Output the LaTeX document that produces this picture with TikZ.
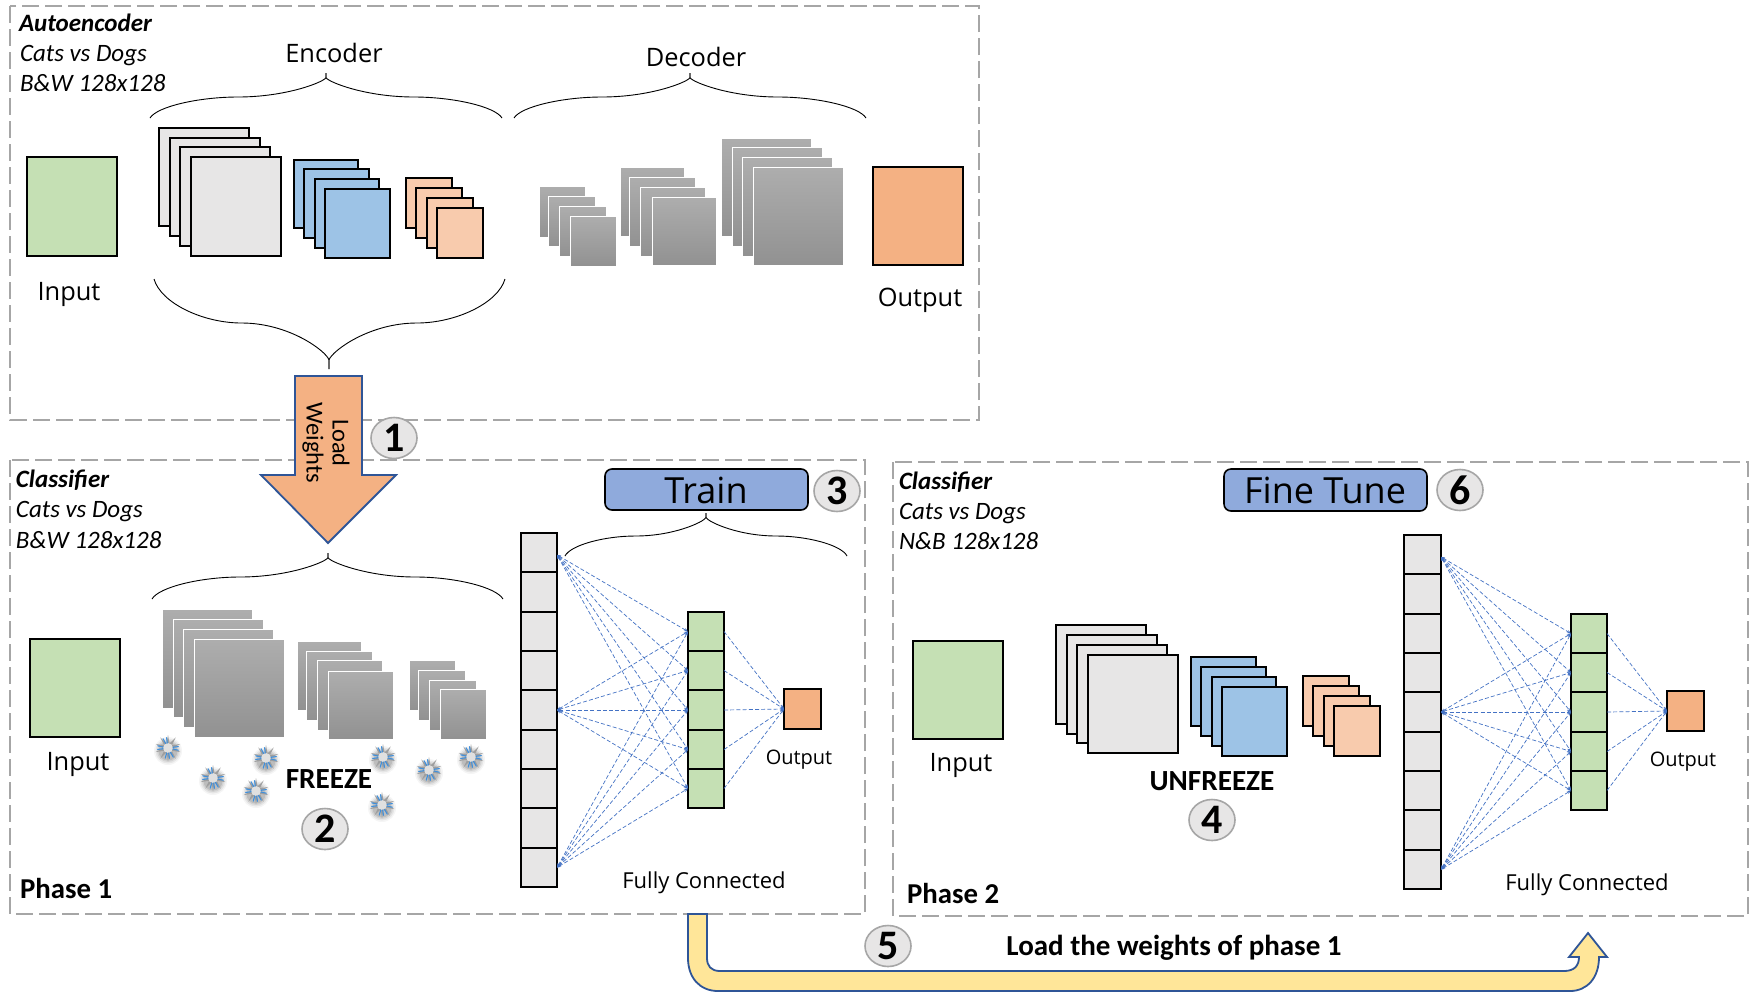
\documentclass[tikz,border=0pt]{standalone}
\usepackage{fontspec}
\setmainfont{Carlito}
\newfontfamily\segoe{Open Sans}
\usetikzlibrary{arrows.meta,shapes.geometric}
\definecolor{cgreen}{HTML}{C5E0B4}
\definecolor{cgrey}{HTML}{E7E6E6}
\definecolor{cblue}{HTML}{9DC3E6}
\definecolor{cpeach}{HTML}{F8CBAD}
\definecolor{corange}{HTML}{F4B183}
\definecolor{cnavy}{HTML}{2F5597}
\definecolor{ctrain}{HTML}{8FAADC}
\definecolor{cyel}{HTML}{FFE699}
\definecolor{cdash}{HTML}{A6A6A6}
\definecolor{cfc}{HTML}{4472C4}
\definecolor{cspike}{HTML}{3F8FDC}
\tikzset{
  every node/.style={inner sep=0pt,outer sep=0pt},
  framebox/.style={draw=cdash,line width=1.1pt,dash pattern=on 8.5pt off 3pt},
  blk/.style={draw=black,line width=1.1pt},
  bwide/.style={blk,fill=cgrey},
  bblue/.style={blk,fill=cblue},
  bpeach/.style={blk,fill=cpeach},
  bgreen/.style={blk,fill=cgreen},
  borange/.style={blk,fill=corange},
  frozen/.style={draw=white,line width=.35pt,top color=black!32,bottom color=black!43},
  fc/.style={draw=cfc,line width=.35pt,dash pattern=on 2pt off 1.1pt},
  fcboth/.style={fc,{Stealth[length=2pt,width=1.6pt]}-{Stealth[length=2pt,width=1.6pt]}},
  fcone/.style={fc,-{Stealth[length=2pt,width=1.6pt]}},
  hdr/.style={anchor=west,font=\fontsize{12.5}{14}\selectfont\bfseries\itshape},
  sub/.style={anchor=west,font=\fontsize{12.5}{14}\selectfont\itshape},
  lab/.style={font=\segoe\fontsize{12.7}{14}\selectfont},
  labo/.style={font=\segoe\fontsize{10}{12}\selectfont},
  labf/.style={font=\segoe\fontsize{11}{12}\selectfont},
  phase/.style={anchor=west,font=\fontsize{14.4}{16}\selectfont\bfseries},
  bold/.style={font=\fontsize{14.6}{16}\selectfont\bfseries},
  num/.style={ellipse,draw=cdash,line width=.8pt,fill=cgrey,minimum width=23pt,minimum height=20.5pt,font=\fontsize{21}{23}\selectfont\bfseries},
  pill/.style={draw=black,line width=.8pt,fill=ctrain,rounded corners=3.5pt,font=\segoe\fontsize{18}{20}\selectfont},
  brc/.style={draw=black,line width=.45pt},
  block/.style={draw=cnavy,line width=.9pt},
}
% rectangle node between two corners, in reference pixels
\newcommand\bxnode[6]{%
  \pgfmathsetmacro\bxcx{(#3+#5)/2}\pgfmathsetmacro\bxcy{(#4+#6)/2}%
  \pgfmathsetmacro\bxw{(#5-#3)*.5}\pgfmathsetmacro\bxh{(#6-#4)*.5}%
  \node[#2,minimum width=\bxw pt,minimum height=\bxh pt] (#1) at (\bxcx,\bxcy) {};}
\newcommand\stacknodes[3]{%
  \foreach \a/\b/\c/\d [count=\i] in {#3} {\bxnode{#1\i}{#2}{\a}{\b}{\c}{\d}}}
\newcommand\frozenstack[2]{%
  \foreach \a/\b/\c/\d [count=\i] in {#2} {\bxnode{#1\i}{frozen}{(\a-1)}{(\b-1)}{\c}{\d}}}
% half of a curly brace: #1 outer x, #2 tip x, #3 tip y, #4 middle y, #5 end y
\newcommand\halfbrace[5]{%
  \pgfmathsetmacro\hw{#2-#1}\pgfmathsetmacro\hq{(#1+#2)/2}%
  \pgfmathsetmacro\hca{#1+.04*\hw}\pgfmathsetmacro\hcb{#5+.55*(#4-#5)}%
  \pgfmathsetmacro\hcc{\hq-.22*\hw}\pgfmathsetmacro\hcd{\hq+.27*\hw}%
  \pgfmathsetmacro\hce{#2-.02*\hw}\pgfmathsetmacro\hcf{#4+.6*(#3-#4)}\pgfmathsetmacro\hcg{#4+.8*(#3-#4)}%
  \draw[brc] (#1,#5) .. controls (\hca,\hcb) and (\hcc,#4) .. (\hq,#4)
     .. controls (\hcd,#4) and (\hce,\hcf) .. (#2,\hcg) -- (#2,#3);}
\newcommand\cbrace[6]{\halfbrace{#1}{#2}{#4}{#5}{#6}\halfbrace{#3}{#2}{#4}{#5}{#6}}
% frost mark
\newcommand\frost[3]{%
  \begin{scope}[shift={(#2,#3)}]
    \foreach \r/\o in {14/.04,12.5/.06,11/.08,9.5/.10}{\fill[black,opacity=\o] (0,3) circle[radius=\r];}
    \node[star,star points=10,star point ratio=2.8,fill=black!38,minimum size=13pt] (#1) at (0,0) {};
    \fill[black!12] (0,0) circle[radius=5];
    \foreach \ang in {82,105,60,-8,12,172,192,262,-118}{
      \draw[color=cspike,line width=.55pt,line cap=round] (\ang:5) -- (\ang:10.5);}
  \end{scope}}
\newcommand\fclinks[3]{%
  \coordinate (#1top) at ([yshift=-1.2pt]#11.east);
  \coordinate (#1mid) at (#15.east);
  \coordinate (#1low) at (#19.east);
  \foreach \s in {top,mid,low}{\foreach \t in {1,...,5}{\draw[fcboth] (#1\s) -- (#2\t.west);}}
  \foreach \t in {1,...,5}{\draw[fcone] (#2\t.east) -- (#3.west);}}
\begin{document}
\begin{tikzpicture}[x=.5pt,y=-.5pt]
\useasboundingbox (0,0) rectangle (1749,996);
\fill[white] (0,0) rectangle (1749,996);
% frames
\draw[framebox] (10,6) rectangle (979,420);
\draw[framebox] (10,460) rectangle (865,914);
\draw[framebox] (893,462) rectangle (1748,916);

% AUTOENCODER
\node[hdr] (t1) at (19,23) {Autoencoder};
\node[sub] (t2) at (20,56) {Cats vs Dogs};
\node[sub] (t3) at (20,83) {B\&W 128x128};
\node[lab] (enc) at (334,53) {Encoder};
\node[lab] (dec) at (696,57) {Decoder};
\node[lab] (inA) at (69,294) {Input};
\node[lab] (outA) at (920,300) {Output};
\bxnode{inputA}{bgreen}{27}{157}{117}{256}
\stacknodes{aG}{bwide}{159/128/249/226,170/138/260/236,180/147/270/246,191/157/281/256}
\stacknodes{aB}{bblue}{294/160/358/228,304/169/369/238,315/179/379/248,325/189/390/258}
\stacknodes{aP}{bpeach}{406/178/452/228,416/188/462/238,427/198/473/248,437/208/483/258}
\frozenstack{dS}{540/187/585/237,549/197/595/246,560/207/606/256,571/217/616/266}
\frozenstack{dM}{621/168/684/236,630/178/695/246,641/188/705/256,653/198/716/265}
\frozenstack{dL}{722/139/811/236,733/148/822/246,743/158/832/256,754/168/843/265}
\bxnode{outputA}{borange}{873}{167}{963}{265}
\cbrace{150}{326}{502}{73}{97}{118}
\cbrace{514}{690}{866}{73}{97}{118}
\cbrace{154}{329}{505}{369}{323}{279}

% LOAD WEIGHTS ARROW
\draw[block,fill=corange,line join=miter] (295,376) -- (362,376) -- (362,475) -- (396,475) -- (328,543) -- (261,475) -- (295,475) -- cycle;
\node[rotate=-90,font=\fontsize{12.2}{13}\selectfont] (lw1) at (341,443) {Load};
\node[rotate=-90,font=\fontsize{12.2}{13}\selectfont] (lw2) at (313,443) {Weights};
\node[num] (n1) at (394,438) {1};

% CLASSIFIER 1
\node[hdr] (c1) at (16,480) {Classifier};
\node[sub] (c2) at (16,512) {Cats vs Dogs};
\node[sub] (c3) at (16,540) {B\&W 128x128};
\bxnode{inputB}{bgreen}{30}{639}{120}{737}
\node[lab] (inB) at (78,764) {Input};
\frozenstack{bL}{163/610/252/708,174/620/263/717,184/630/273/727,195/640/284/737}
\frozenstack{bM}{298/642/361/710,307/652/372/720,318/661/382/730,329/672/393/739}
\frozenstack{bS}{410/661/455/710,419/671/465/720,430/681/476/730,441/690/486/739}
\cbrace{152}{328}{503}{553}{577}{599}
\frost{f1}{168}{748}\frost{f2}{213}{778}\frost{f3}{266}{758}\frost{f4}{256}{791}
\frost{f5}{383}{757}\frost{f6}{382}{805}\frost{f7}{429}{770}\frost{f8}{471}{757}
\node[bold] (fr) at (329,779) {FREEZE};
\node[num] (n2) at (325,829) {2};
\node[phase] (ph1) at (20,888) {Phase 1};
% train
\bxnode{train}{pill}{605}{469}{808}{510}
\node[font=\segoe\fontsize{18}{20}\selectfont] (trt) at (706,490) {Train};
\node[num] (n3) at (837,491) {3};
\cbrace{565}{706}{847}{513}{536}{556}
\foreach \i/\p/\q in {1/533/572,2/572/612,3/612/651,4/651/690,5/690/730,6/730/769,7/769/808,8/808/848,9/848/887}{\bxnode{bC\i}{bwide}{521}{\p}{557}{\q}}
\foreach \i/\p/\q in {1/612/651,2/651/690,3/690/730,4/730/769,5/769/808}{\bxnode{bF\i}{bgreen}{688}{\p}{724}{\q}}
\bxnode{bO}{borange}{784}{689}{821}{729}
\fclinks{bC}{bF}{bO}
\node[labo] (outB) at (799,760) {Output};
\node[labf] (fcB) at (704,883) {Fully Connected};

% CLASSIFIER 2
\node[hdr] (e1) at (899,482) {Classifier};
\node[sub] (e2) at (899,514) {Cats vs Dogs};
\node[sub] (e3) at (899,541) {N\&B 128x128};
\bxnode{inputC}{bgreen}{913}{641}{1003}{739}
\node[lab] (inC) at (961,765) {Input};
\stacknodes{cG}{bwide}{1056/625/1146/724,1067/635/1157/734,1077/645/1167/743,1088/655/1178/753}
\stacknodes{cB}{bblue}{1191/657/1256/726,1201/667/1266/736,1212/677/1276/746,1222/687/1287/756}
\stacknodes{cP}{bpeach}{1303/676/1349/726,1313/686/1359/736,1324/696/1370/746,1334/706/1380/756}
\node[bold] (unf) at (1212,781) {UNFREEZE};
\node[num] (n4) at (1212,820) {4};
\node[phase] (ph2) at (907,893) {Phase 2};
\bxnode{tune}{pill}{1224}{469}{1427}{511}
\node[font=\segoe\fontsize{18}{20}\selectfont] (tut) at (1325,490) {Fine Tune};
\node[num] (n6) at (1460,490) {6};
\foreach \i/\p/\q in {1/535/574,2/574/614,3/614/653,4/653/692,5/692/732,6/732/771,7/771/810,8/810/850,9/850/889}{\bxnode{cC\i}{bwide}{1404}{\p}{1441}{\q}}
\foreach \i/\p/\q in {1/614/653,2/653/692,3/692/732,4/732/771,5/771/810}{\bxnode{cF\i}{bgreen}{1571}{\p}{1607}{\q}}
\bxnode{cO}{borange}{1667}{691}{1704}{731}
\fclinks{cC}{cF}{cO}
\node[labo] (outC) at (1683,762) {Output};
\node[labf] (fcC) at (1587,885) {Fully Connected};

% LOAD WEIGHTS OF PHASE 1 ARROW
\draw[block,fill=cyel,line join=miter] (688,914) -- (707,914) -- (707,958)
  .. controls (707,966) and (711,971) .. (720,971) -- (1564,971)
  .. controls (1574,971) and (1579,966) .. (1579,957) -- (1569,957) -- (1588,933) -- (1607,957) -- (1599,957)
  .. controls (1599,978) and (1587,991) .. (1570,991) -- (718,991)
  .. controls (700,991) and (688,978) .. (688,958) -- cycle;
\node[num] (n5) at (888,946) {5};
\node[font=\fontsize{14.5}{16}\selectfont\bfseries] (lw) at (1174,948) {Load the weights of phase 1};
\end{tikzpicture}
\end{document}
